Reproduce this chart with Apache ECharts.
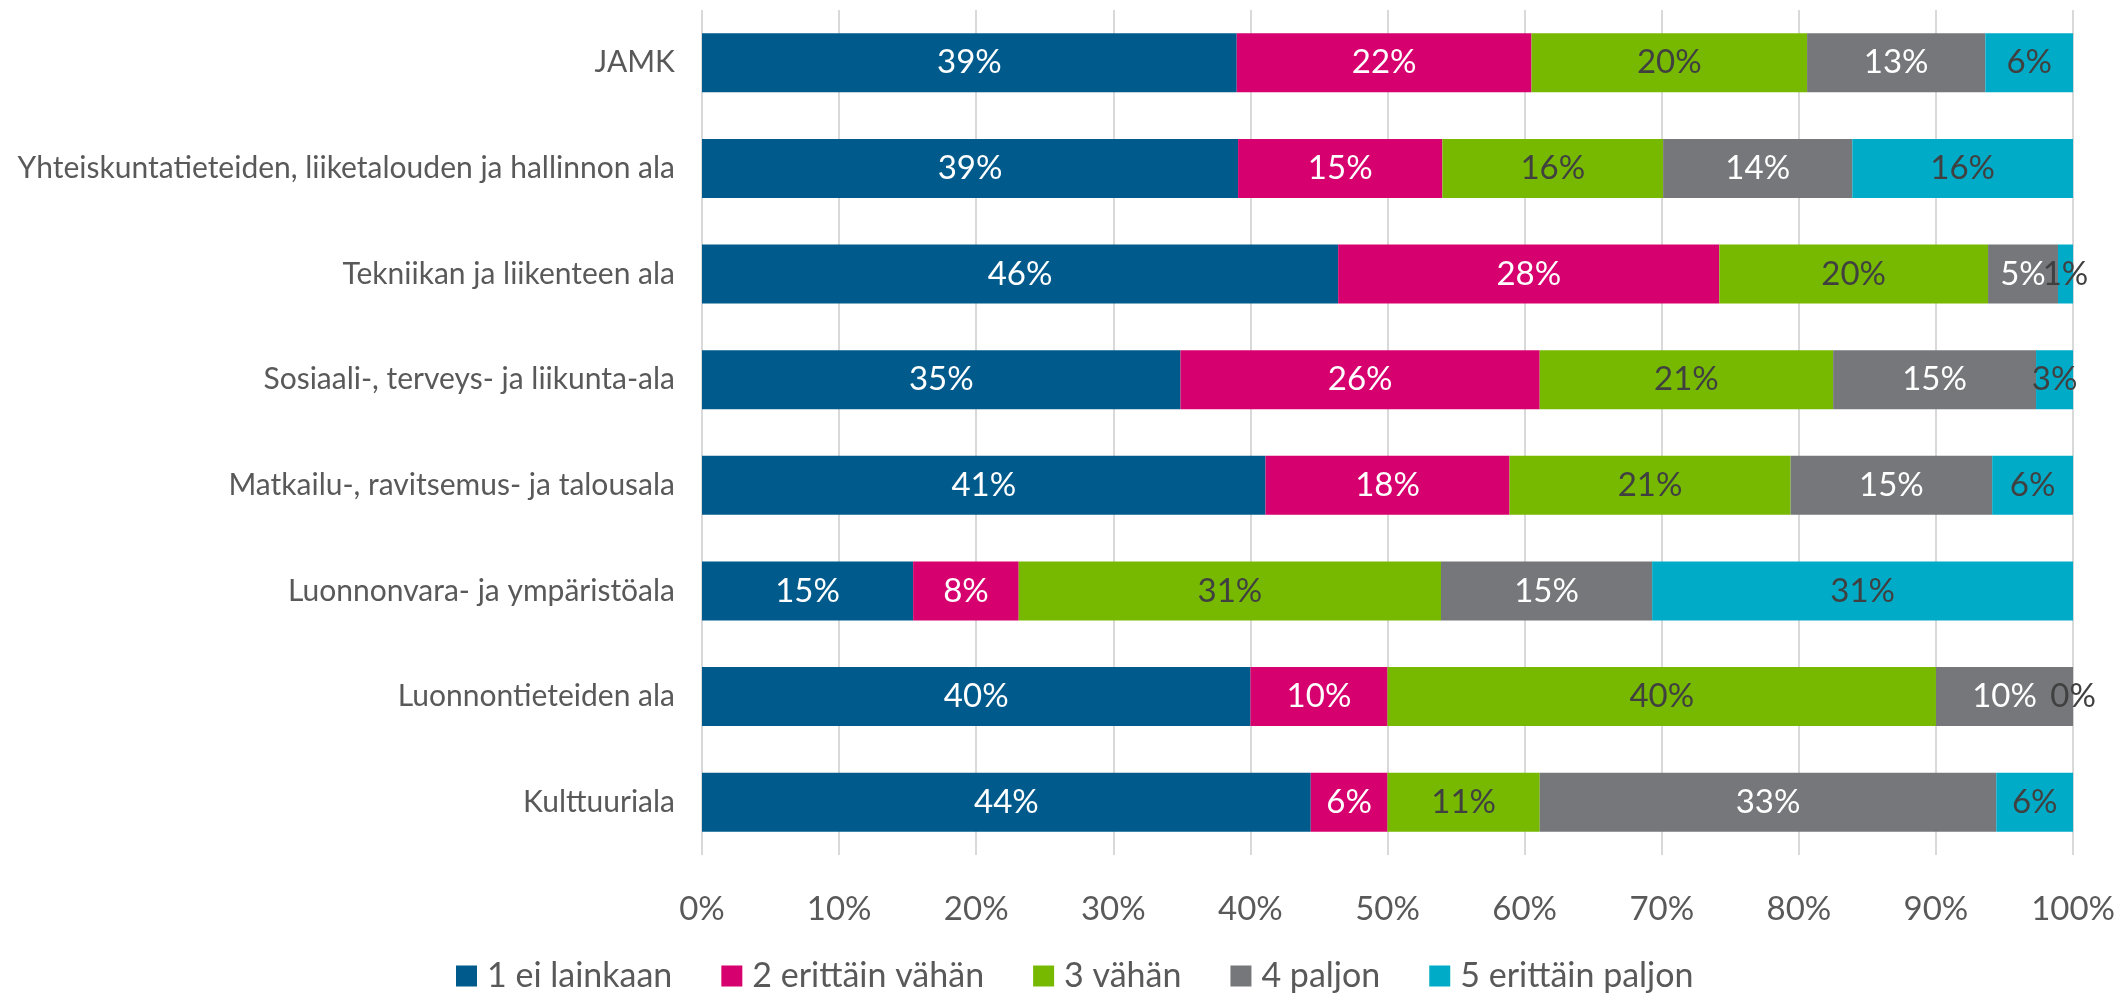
<!DOCTYPE html>
<html>
<head>
<meta charset="utf-8">
<script src="https://cdn.jsdelivr.net/npm/echarts@6/dist/echarts.min.js"></script>
<style>
  html, body { margin: 0; padding: 0; background: #fff; }
  #chart { width: 2118px; height: 993px; }
</style>
</head>
<body>
<div id="chart"></div>
<script>
  // alat ylhäältä alas
  var categories = [
    'JAMK',
    'Yhteiskuntatieteiden, liiketalouden ja hallinnon ala',
    'Tekniikan ja liikenteen ala',
    'Sosiaali-, terveys- ja liikunta-ala',
    'Matkailu-, ravitsemus- ja talousala',
    'Luonnonvara- ja ympäristöala',
    'Luonnontieteiden ala',
    'Kulttuuriala'
  ]
  var seriesNames = ['1 ei lainkaan', '2 erittäin vähän', '3 vähän', '4 paljon', '5 erittäin paljon']
  var eiLainkaan = [39.0, 39.1, 46.4, 34.9, 41.1, 15.4, 40, 44.4]
  var erittainVahan = [21.5, 14.9, 27.8, 26.2, 17.8, 7.7, 10, 5.6]
  var vahan = [20.1, 16.1, 19.6, 21.4, 20.5, 30.8, 40, 11.1]
  var paljon = [13.0, 13.8, 5.1, 14.8, 14.7, 15.4, 10, 33.3]
  var erittainPaljon = [6.4, 16.1, 1.1, 2.7, 5.9, 30.8, 0, 5.6]
  var xTicks = [0, 10, 20, 30, 40, 50, 60, 70, 80, 90, 100]

  var colors = ['#005B8C', '#D7006F', '#76B900', '#76777B', '#00ABC8']
  var labelColors = ['#ffffff', '#ffffff', '#404040', '#ffffff', '#404040']
  var values = [eiLainkaan, erittainVahan, vahan, paljon, erittainPaljon]
  var fontName = 'Lato'

  var myChart = echarts.init(document.getElementById('chart'))
  var option = {
    animation: false,
    textStyle: { fontFamily: fontName },
    grid: {
      left: 702,
      right: 43,
      top: 10,
      bottom: 138,
      containLabel: false
    },
    legend: {
      left: 451,
      top: 954,
      icon: 'rect',
      itemWidth: 21,
      itemHeight: 21,
      itemGap: 49,
      textStyle: { fontSize: 34, color: '#595959', fontFamily: fontName, padding: [0, 0, 0, 5] },
      data: seriesNames
    },
    xAxis: {
      type: 'value',
      min: xTicks[0],
      max: xTicks[xTicks.length - 1],
      interval: 10,
      axisLine: { show: false },
      axisTick: { show: false },
      axisLabel: {
        margin: 38,
        fontSize: 33,
        color: '#595959',
        formatter: function (v) { return v + '%' }
      },
      splitLine: { show: true, lineStyle: { color: '#D9D9D9', width: 2 } }
    },
    yAxis: {
      type: 'category',
      inverse: true,
      data: categories,
      axisLine: { show: false },
      axisTick: { show: false },
      axisLabel: { margin: 27, fontSize: 30, color: '#595959' }
    },
    series: seriesNames.map(function (name, i) {
      return {
        name: name,
        type: 'bar',
        stack: 'yht',
        barWidth: 59,
        itemStyle: { color: colors[i] },
        label: {
          show: true,
          position: 'inside',
          fontSize: 33,
          color: labelColors[i],
          formatter: function (p) { return Math.round(p.value) + '%' }
        },
        data: values[i]
      }
    })
  }
  myChart.setOption(option)
</script>
</body>
</html>
